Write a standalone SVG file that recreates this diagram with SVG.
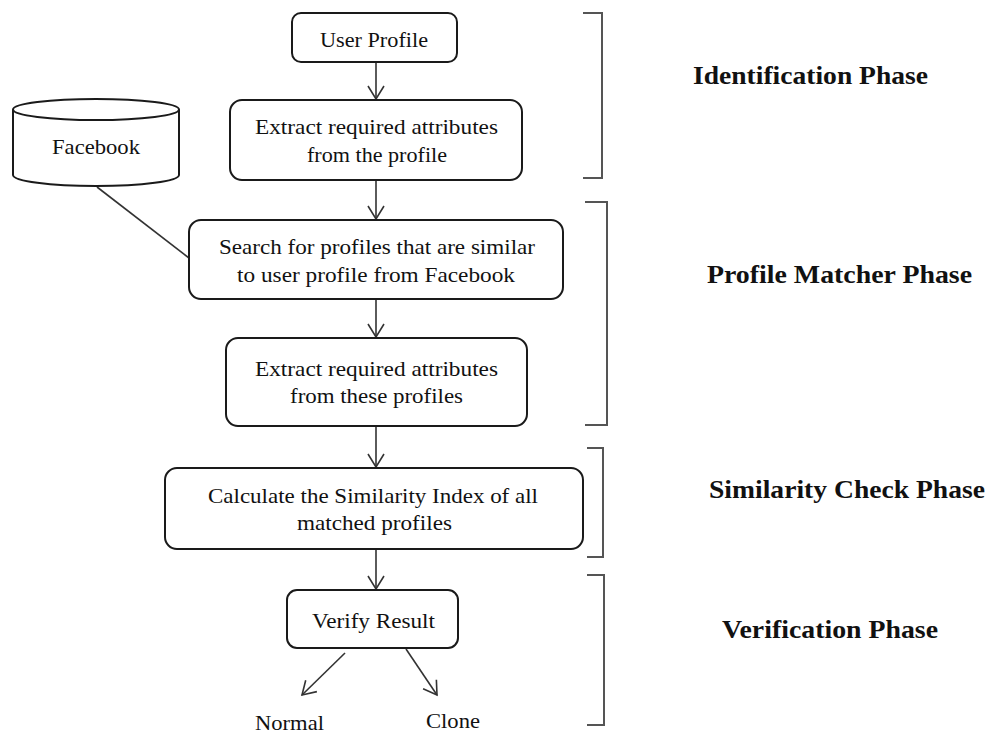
<svg xmlns="http://www.w3.org/2000/svg" width="989" height="734" viewBox="0 0 989 734">
<style>
.box{fill:#fff;stroke:#1a1a1a;stroke-width:2}
.t{font-family:"Liberation Serif","Times New Roman",serif;font-size:21px;fill:#111;text-anchor:start}
.ph{font-family:"Liberation Serif","Times New Roman",serif;font-size:26px;font-weight:bold;fill:#111}
.conn{stroke:#333;stroke-width:1.6;fill:none}
.br{stroke:#555;stroke-width:2;fill:none}
</style>
<defs>
<marker id="ah" markerUnits="userSpaceOnUse" markerWidth="20" markerHeight="20" viewBox="-15 -10 17 20" refX="0" refY="0" orient="auto">
<path d="M-13,-8 L0,0 L-13,8" fill="none" stroke="#333" stroke-width="1.6"/>
</marker>
</defs>
<rect width="989" height="734" fill="#fff"/>

<g id="connectors">
<line class="conn" x1="376" y1="62" x2="376" y2="99" marker-end="url(#ah)"/>
<line class="conn" x1="376" y1="180" x2="376" y2="219" marker-end="url(#ah)"/>
<line class="conn" x1="376" y1="299" x2="376" y2="337" marker-end="url(#ah)"/>
<line class="conn" x1="376" y1="426" x2="376" y2="467" marker-end="url(#ah)"/>
<line class="conn" x1="376" y1="549" x2="376" y2="589" marker-end="url(#ah)"/>
<line class="conn" x1="345" y1="653" x2="302" y2="695" marker-end="url(#ah)"/>
<line class="conn" x1="406" y1="649" x2="437" y2="695" marker-end="url(#ah)"/>
<line class="conn" x1="97" y1="187" x2="189" y2="258"/>
</g>

<g id="user-profile">
<rect class="box" x="292" y="13" width="165" height="49" rx="9"/>
<text class="t" x="320" y="47" textLength="108" lengthAdjust="spacingAndGlyphs">User Profile</text>
</g>

<g id="extract-1">
<rect class="box" x="230" y="100" width="292" height="80" rx="12"/>
<text class="t" x="255" y="134" textLength="243" lengthAdjust="spacingAndGlyphs">Extract required attributes</text>
<text class="t" x="307" y="162" textLength="140" lengthAdjust="spacingAndGlyphs">from the profile</text>
</g>

<g id="facebook">
<path class="box" d="M13,109.5 L13,175 A83,11 0 0 0 179,175 L179,109.5"/>
<ellipse class="box" cx="96" cy="109.5" rx="83" ry="10.5"/>
<text class="t" x="52" y="154" textLength="88" lengthAdjust="spacingAndGlyphs">Facebook</text>
</g>

<g id="search">
<rect class="box" x="189" y="220" width="374" height="79" rx="12"/>
<text class="t" x="219" y="254" textLength="316" lengthAdjust="spacingAndGlyphs">Search for profiles that are similar</text>
<text class="t" x="237" y="282" textLength="278" lengthAdjust="spacingAndGlyphs">to user profile from Facebook</text>
</g>

<g id="extract-2">
<rect class="box" x="226" y="338" width="301" height="88" rx="12"/>
<text class="t" x="255" y="376" textLength="243" lengthAdjust="spacingAndGlyphs">Extract required attributes</text>
<text class="t" x="290" y="403" textLength="173" lengthAdjust="spacingAndGlyphs">from these profiles</text>
</g>

<g id="calculate">
<rect class="box" x="165" y="468" width="418" height="81" rx="12"/>
<text class="t" x="208" y="503" textLength="330" lengthAdjust="spacingAndGlyphs">Calculate the Similarity Index of all</text>
<text class="t" x="297" y="530" textLength="155" lengthAdjust="spacingAndGlyphs">matched profiles</text>
</g>

<g id="verify">
<rect class="box" x="287" y="590" width="171" height="58" rx="10"/>
<text class="t" x="312" y="628" textLength="123" lengthAdjust="spacingAndGlyphs">Verify Result</text>
</g>

<g id="normal">
<text class="t" x="255" y="730" textLength="69" lengthAdjust="spacingAndGlyphs">Normal</text>
</g>
<g id="clone">
<text class="t" x="426" y="728" textLength="54" lengthAdjust="spacingAndGlyphs">Clone</text>
</g>

<g id="phases">
<path class="br" d="M583,13 H602 V178 H583"/>
<path class="br" d="M585,202 H607 V425 H585"/>
<path class="br" d="M587,448 H603 V557 H587"/>
<path class="br" d="M587,575 H604 V725 H587"/>
<text class="ph" x="693" y="84" textLength="235" lengthAdjust="spacingAndGlyphs">Identification Phase</text>
<text class="ph" x="707" y="283" textLength="265" lengthAdjust="spacingAndGlyphs">Profile Matcher Phase</text>
<text class="ph" x="709" y="498" textLength="276" lengthAdjust="spacingAndGlyphs">Similarity Check Phase</text>
<text class="ph" x="722" y="638" textLength="216" lengthAdjust="spacingAndGlyphs">Verification Phase</text>
</g>
</svg>
